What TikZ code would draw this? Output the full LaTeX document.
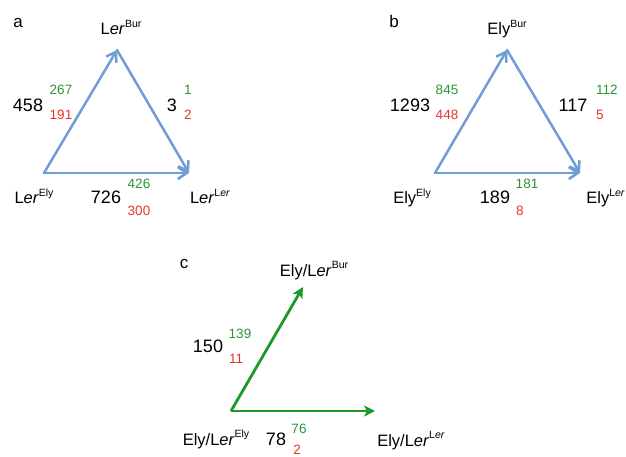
\documentclass[tikz,border=0pt]{standalone}
\usepackage{fontspec}
\setmainfont{Liberation Sans}
\usetikzlibrary{arrows.meta}
\definecolor{arrblue}{RGB}{112,157,212}
\definecolor{numgreen}{RGB}{42,150,56}
\definecolor{numred}{RGB}{232,52,40}
\definecolor{arrgreen}{RGB}{30,152,40}
\newcommand{\supx}[1]{\raisebox{0.45em}{\fontsize{10.5}{11}\selectfont #1}}
\tikzset{
  lbl/.style={anchor=base, inner sep=0pt, font=\fontsize{16.5}{18}\selectfont},
  big/.style={anchor=base, inner sep=0pt, font=\fontsize{18}{20}\selectfont},
  gnum/.style={anchor=base, inner sep=0pt, text=numgreen, font=\fontsize{13.5}{15}\selectfont},
  rnum/.style={anchor=base, inner sep=0pt, text=numred, font=\fontsize{13.5}{15}\selectfont},
  panel/.style={anchor=base, inner sep=0pt, font=\fontsize{17}{19}\selectfont},
  bluearr/.style={line width=2.5pt, line cap=round, draw=arrblue,
    -{Straight Barb[length=9pt,width=12pt]}},
  greenarr/.style={line width=2.8pt, draw=arrgreen,
    -{Stealth[length=11pt,width=11pt,inset=3pt]}}
}
\begin{document}
\begin{tikzpicture}[x=1pt,y=-1pt]
\useasboundingbox (0,0) rectangle (626,457);
% ---------- panel a ----------
\node[panel] (pa) at (18,28) {a};
\coordinate (a1) at (44,173);
\coordinate (a2) at (117,50);
\coordinate (a3) at (189,173);
\draw[bluearr] (a1) -- (a2);
\draw[bluearr] (a2) -- (a3);
\draw[bluearr] (a1) -- (a3);
\node[lbl] (aBur) at (121,35) {L\textit{er}\supx{Bur}};
\node[lbl] (aEly) at (34,204) {L\textit{er}\supx{Ely}};
\node[lbl] (aLer) at (210,204) {L\textit{er}\supx{L\textit{er}}};
\node[big] (a458) at (28,112) {458};
\node[gnum] (a267) at (61,95) {267};
\node[rnum] (a191) at (61,120) {191};
\node[big] (a3n) at (172,112) {3};
\node[gnum] (a1n) at (188,95) {1};
\node[rnum] (a2n) at (188,120) {2};
\node[big] (a726) at (106,204) {726};
\node[gnum] (a426) at (139,189) {426};
\node[rnum] (a300) at (139,215) {300};
% ---------- panel b ----------
\node[panel] (pb) at (394,28) {b};
\coordinate (b1) at (435,173);
\coordinate (b2) at (507,50);
\coordinate (b3) at (580,173);
\draw[bluearr] (b1) -- (b2);
\draw[bluearr] (b2) -- (b3);
\draw[bluearr] (b1) -- (b3);
\node[lbl] (bBur) at (507,35) {Ely\supx{Bur}};
\node[lbl] (bEly) at (412,204) {Ely\supx{Ely}};
\node[lbl, anchor=base east] (bLer) at (625,204) {Ely\supx{L\textit{er}}};
\node[big] (b1293) at (410,112) {1293};
\node[gnum] (b845) at (447,95) {845};
\node[rnum] (b448) at (447,120) {448};
\node[big] (b117) at (573,112) {117};
\node[gnum, anchor=base west] (b112) at (596,95) {112};
\node[rnum, anchor=base west] (b5) at (596,120) {5};
\node[big] (b189) at (495,204) {189};
\node[gnum] (b181) at (527,189) {181};
\node[rnum, anchor=base west] (b8) at (516,215) {8};
% ---------- panel c ----------
\node[panel] (pc) at (184,268) {c};
\coordinate (c1) at (231,411);
\coordinate (c2) at (303,287);
\coordinate (c3) at (375,411);
\draw[greenarr] (c1) -- (c2);
\draw[greenarr] (c1) -- (c3);
\node[lbl] (cBur) at (314,276) {Ely/L\textit{er}\supx{Bur}};
\node[lbl] (cEly) at (216,445) {Ely/L\textit{er}\supx{Ely}};
\node[lbl] (cLer) at (411,446) {Ely/L\textit{er}\supx{L\textit{er}}};
\node[big] (c150) at (208,352) {150};
\node[gnum] (c139) at (240,338) {139};
\node[rnum, anchor=base west] (c11) at (229,363) {11};
\node[big] (c78) at (276,445) {78};
\node[gnum] (c76) at (299,433) {76};
\node[rnum] (c2n) at (297,454) {2};
\end{tikzpicture}
\end{document}
